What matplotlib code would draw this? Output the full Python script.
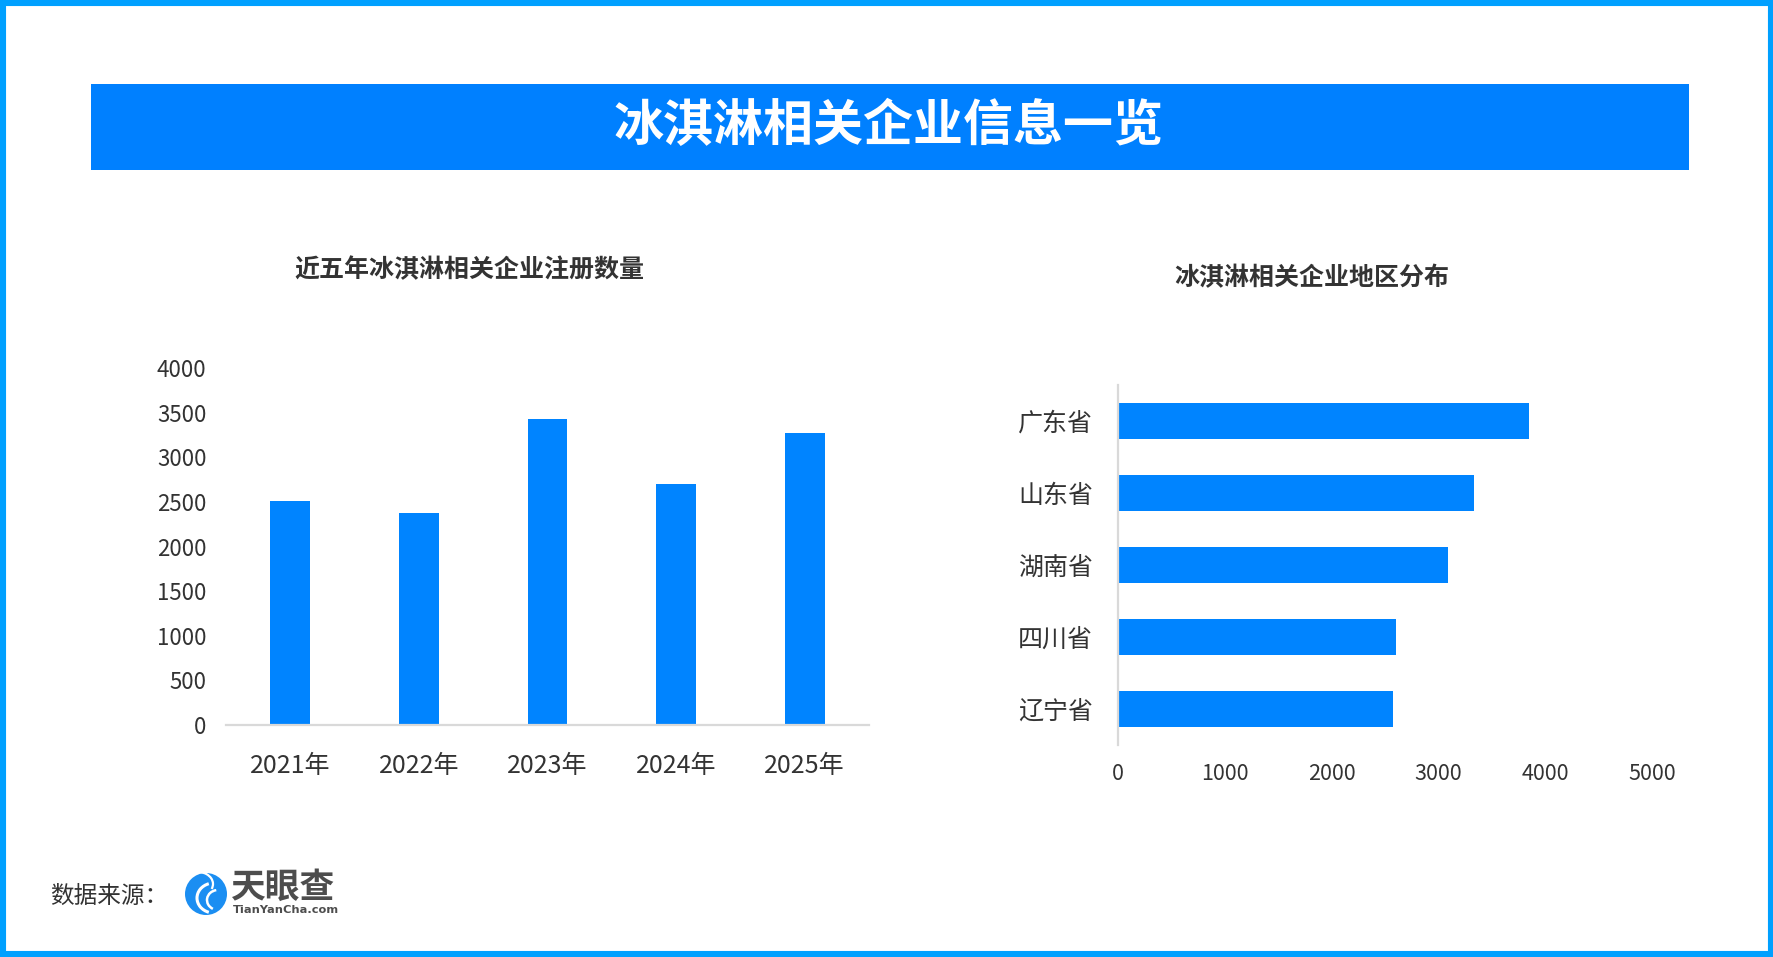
import matplotlib
matplotlib.use('Agg')
import matplotlib.pyplot as plt
from matplotlib.patches import Rectangle, Circle, Arc

plt.rcParams['font.family'] = ['Noto Sans CJK SC', 'DejaVu Sans']

# data
years = ['2021年', '2022年', '2023年', '2024年', '2025年']
reg_counts = [2515, 2380, 3433, 2705, 3276]
provinces = ['广东省', '山东省', '湖南省', '四川省', '辽宁省']
prov_counts = [3848, 3332, 3087, 2601, 2575]

title = '冰淇淋相关企业信息一览'
left_title = '近五年冰淇淋相关企业注册数量'
right_title = '冰淇淋相关企业地区分布'

W, H = 1774, 957
blue = '#0084FF'
txt = '#333333'
grid = '#D9D9D9'

fig = plt.figure(figsize=(W / 100, H / 100), dpi=100)
fig.patch.set_facecolor('white')

# overlay in pixel coords for decorations
ov = fig.add_axes([0, 0, 1, 1])
ov.set_xlim(0, W)
ov.set_ylim(H, 0)
ov.axis('off')
ov.add_patch(Rectangle((3, 3), W - 6, H - 6, fill=False, ec='#00A0FF', lw=4.4))
ov.add_patch(Rectangle((91, 84), 1598, 86, color='#0080FF', lw=0))
ov.text(889, 126, title, color='white', fontsize=36, fontweight='bold', ha='center', va='center')
ov.text(469, 270, left_title, color=txt, fontsize=18, fontweight='bold', ha='center', va='center')
ov.text(1312, 278, right_title, color=txt, fontsize=18, fontweight='bold', ha='center', va='center')

# footer
ov.text(50, 896, '数据来源：', color=txt, fontsize=17, ha='left', va='center')
ov.add_patch(Circle((206, 894), 21, color='#1B8EF2', lw=0))
ov.add_patch(Arc((214, 898), 34, 30, theta1=110, theta2=250, color='white', lw=2.2))
ov.add_patch(Arc((218, 900), 22, 20, theta1=120, theta2=260, color='white', lw=1.8))
ov.add_patch(Arc((198, 884), 30, 24, theta1=280, theta2=20, color='white', lw=1.6))
ov.text(231, 887, '天眼查', color='#4d4d4d', fontsize=25, fontweight='bold', ha='left', va='center')
ov.text(233, 910, 'TianYanCha.com', color='#4d4d4d', fontsize=8.2, fontweight='bold',
        ha='left', va='center', family='DejaVu Sans')

# left bar chart
ax1 = fig.add_axes([226 / W, 1 - 725 / H, 643 / W, 357 / H])
ax1.bar(range(len(years)), reg_counts, width=0.31, color=blue, zorder=2)
ax1.set_xlim(-0.5, len(years) - 0.5)
ax1.set_ylim(0, 4000)
ax1.set_yticks(range(0, 4001, 500))
ax1.set_xticks(range(len(years)))
ax1.set_xticklabels(years)
for s in ['top', 'right', 'left']:
    ax1.spines[s].set_visible(False)
ax1.spines['bottom'].set_color(grid)
ax1.spines['bottom'].set_linewidth(1.6)
ax1.tick_params(axis='y', length=0, pad=14, labelsize=16, labelcolor=txt)
ax1.tick_params(axis='x', length=0, pad=20, labelsize=18, labelcolor=txt)
ax1.patch.set_alpha(0)

# right horizontal bar chart
ax2 = fig.add_axes([1118 / W, 1 - 745 / H, 534 / W, 360 / H])
ax2.barh(range(len(provinces)), prov_counts, height=0.5, color=blue, zorder=2)
ax2.set_ylim(len(provinces) - 0.5, -0.5)
ax2.set_xlim(0, 5000)
ax2.set_xticks(range(0, 5001, 1000))
ax2.set_yticks(range(len(provinces)))
ax2.set_yticklabels(provinces)
for s in ['top', 'right', 'bottom']:
    ax2.spines[s].set_visible(False)
ax2.spines['left'].set_color(grid)
ax2.spines['left'].set_linewidth(1.6)
ax2.tick_params(axis='y', length=0, pad=18, labelsize=18, labelcolor=txt)
ax2.tick_params(axis='x', length=0, pad=13, labelsize=15.5, labelcolor=txt)
ax2.patch.set_alpha(0)

fig.savefig('out.png', dpi=100, facecolor='white')
